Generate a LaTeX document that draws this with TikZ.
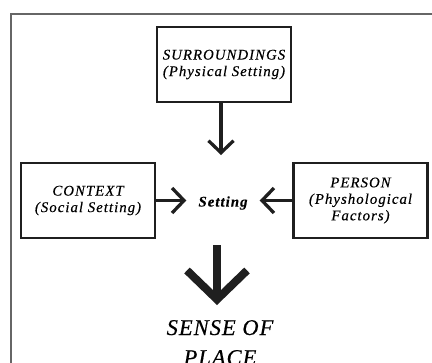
\documentclass[tikz,border=0pt]{standalone}
\usepackage{fontspec}
\setmainfont{Liberation Serif}
\newfontfamily\boxfam[LetterSpace=7,FakeBold=0.4]{Liberation Serif}
\newfontfamily\bigfam[LetterSpace=4.5,FakeBold=0.3]{Liberation Serif}
\usetikzlibrary{arrows.meta}
\tikzset{
  box/.style={draw=black!88, line width=2.5bp, minimum width=134bp, minimum height=75bp,
    inner sep=0pt, align=center, font=\boxfam\fontsize{14.8bp}{16.5bp}\selectfont\itshape},
  conn/.style={draw=black!88, line width=3.3bp, -{Straight Barb[length=12bp,width=25bp]}},
  bigconn/.style={draw=black!88, line width=8bp, -{Straight Barb[length=29bp,width=60bp]}},
  frame/.style={draw=black!60, line width=1.4bp}
}
\begin{document}
\begin{tikzpicture}[x=1bp,y=-1bp]
\useasboundingbox (0,0) rectangle (432,363);
\draw[frame] (11,363) -- (11,14) -- (432,14);
\node[box] (sur) at (224,64.5) {SURROUNDINGS\\(Physical Setting)};
\node[box] (ctx) at (88,200.5) {CONTEXT\\(Social Setting)};
\node[box] (per) at (360.5,200.5) {PERSON\\(Physhological\\Factors)};
\node[font=\boxfam\fontsize{14.8bp}{16.5bp}\selectfont\bfseries\itshape, inner xsep=12bp, inner ysep=3bp] (set) at (223,203) {Setting};
\coordinate (topend) at (221,155);
\draw[conn] (sur.south -| topend) -- (topend);
\draw[conn] (ctx.east) -- (ctx.east -| set.west);
\draw[conn] (per.west) -- (per.west -| set.east);
\node[font=\bigfam\fontsize{22.5bp}{30bp}\selectfont\itshape, align=center, inner sep=0pt, anchor=base] (sp) at (220,365) {SENSE OF\\PLACE};
\coordinate (bigstart) at (217,245);
\coordinate (bigend) at (217,305);
\draw[bigconn] (bigstart) -- (bigend);
\end{tikzpicture}
\end{document}
